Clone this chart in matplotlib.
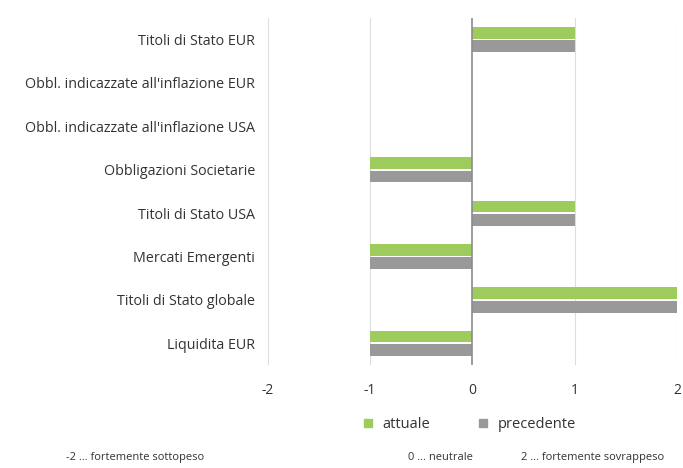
import numpy as np
import matplotlib.pyplot as plt
from matplotlib.lines import Line2D

# Data
categories = ['Titoli di Stato EUR',
              "Obbl. indicazzate all'inflazione EUR",
              "Obbl. indicazzate all'inflazione USA",
              'Obbligazioni Societarie',
              'Titoli di Stato USA',
              'Mercati Emergenti',
              'Titoli di Stato globale',
              'Liquidita EUR']
attuale = [1, 0, 0, -1, 1, -1, 2, -1]
precedente = [1, 0, 0, -1, 1, -1, 2, -1]
xticks = [-2, -1, 0, 1, 2]
notes = ['-2 … fortemente sottopeso', '0 … neutrale', '2 … fortemente sovrappeso']

green = '#9dcb5c'
grey = '#999999'
text_col = '#333333'

plt.rcParams['font.family'] = ['Open Sans', 'DejaVu Sans']

fig = plt.figure(figsize=(6.83, 4.68), dpi=100)
ax = fig.add_axes([0.392, 0.22, 0.599, 0.742])

n = len(categories)
ypos = np.arange(n)[::-1]
h = 0.27
ax.barh(ypos + 0.155, attuale, height=h, color=green, zorder=3)
ax.barh(ypos - 0.155, precedente, height=h, color=grey, zorder=3)

ax.set_xlim(-2, 2)
ax.set_ylim(-0.5, n - 0.5)
ax.set_xticks(xticks)
ax.set_xticklabels([str(t) for t in xticks])
ax.set_yticks(ypos)
ax.set_yticklabels(categories, fontsize=10.3)
ax.tick_params(axis='x', length=0, labelsize=10, colors=text_col, pad=13)
ax.tick_params(axis='y', length=0, colors=text_col, pad=9)

for t in xticks:
    if t == 0:
        ax.axvline(t, color='#8c8c8c', lw=1.2, zorder=4)
    else:
        ax.axvline(t, color='#dddddd', lw=0.8, zorder=1)
for s in ax.spines.values():
    s.set_visible(False)

handles = [Line2D([], [], marker='s', ls='', color=green, markersize=6),
           Line2D([], [], marker='s', ls='', color=grey, markersize=6)]
fig.legend(handles, ['attuale', 'precedente'], loc='center',
           bbox_to_anchor=(0.68, 0.092), ncol=2, frameon=False,
           fontsize=10.5, handletextpad=0.0, columnspacing=2.6,
           labelcolor=text_col)

note_x = [0.198, 0.645, 0.867]
for x, t in zip(note_x, notes):
    fig.text(x, 0.022, t, ha='center', va='center', fontsize=8, color=text_col)

fig.savefig('out.png', dpi=100)
